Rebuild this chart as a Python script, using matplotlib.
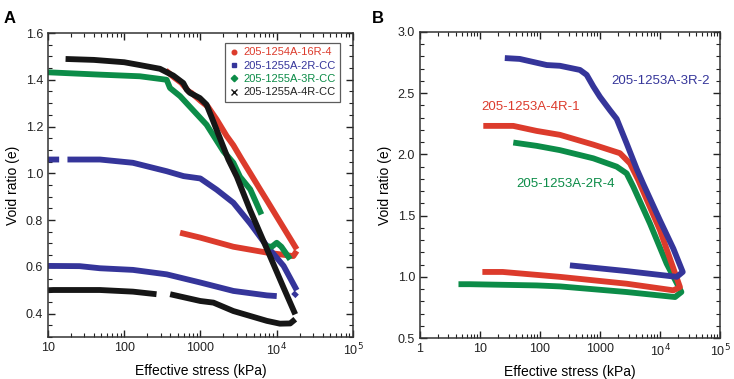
import numpy as np
import matplotlib
matplotlib.use("Agg")
from matplotlib import pyplot as plt
from matplotlib.ticker import FixedLocator, MultipleLocator, LogLocator, NullFormatter, FormatStrFormatter

plt.rcParams['font.family'] = ['Liberation Sans', 'DejaVu Sans']

RED = "#dc3b2c"
BLUE = "#35359a"
GREEN = "#0c8c48"
BLACK = "#161616"

# ---- panel A data (stress kPa, void ratio) ----
a_black_load_x = [17, 40, 100, 160, 294, 440, 595, 660, 728, 980, 1200, 1400, 1800, 2320, 3000, 4470, 7420, 12250, 17500]
a_black_load_e = [1.489, 1.485, 1.475, 1.463, 1.447, 1.418, 1.386, 1.358, 1.344, 1.322, 1.294, 1.24, 1.15, 1.059, 0.985, 0.843, 0.677, 0.512, 0.397]
a_black_unl_x = [17500, 15000, 11000, 7420, 2700, 1480, 994, 400, np.nan, 265, 130, 48, 11.7, 10]
a_black_unl_e = [0.376, 0.358, 0.357, 0.369, 0.411, 0.447, 0.454, 0.483, np.nan, 0.483, 0.494, 0.501, 0.501, 0.50]

a_red_load_x = [350, 450, 560, 700, 760, 1000, 1250, 1630, 2200, 2700, 3470, 4500, 6000, 7400, 10000, 12300, 18300]
a_red_load_e = [1.44, 1.41, 1.387, 1.35, 1.344, 1.31, 1.285, 1.23, 1.16, 1.12, 1.06, 1.0, 0.933, 0.885, 0.815, 0.767, 0.675]
a_red_unl_x = [18300, 16500, 12000, 7420, 2700, 994, 540]
a_red_unl_e = [0.668, 0.646, 0.652, 0.661, 0.686, 0.725, 0.746]

a_green_x = [10, 48, 160, 360, 398, 540, 1200, 2000, 2700, 3300, 4500, 6300, np.nan, 7500, 8600, 10000, 11500, 15000]
a_green_e = [1.432, 1.422, 1.415, 1.40, 1.365, 1.33, 1.208, 1.094, 1.045, 0.985, 0.931, 0.824, np.nan, 0.688, 0.686, 0.703, 0.686, 0.632]

a_blue_load_x = [10, 14, np.nan, 18, 48, 130, 360, 600, 994, 1630, 2700, 4500, 7420, 12300, 18300]
a_blue_load_e = [1.059, 1.059, np.nan, 1.059, 1.059, 1.045, 1.009, 0.988, 0.978, 0.93, 0.874, 0.785, 0.689, 0.604, 0.50]
a_blue_unl_x = [18300, 16500, np.nan, 10000, 7420, 2700, 994, 360, 130, 48, 26, 10]
a_blue_unl_e = [0.49, 0.475, np.nan, 0.475, 0.478, 0.497, 0.533, 0.568, 0.587, 0.594, 0.603, 0.604]

a_labels = ["205-1254A-16R-4", "205-1255A-2R-CC", "205-1255A-3R-CC", "205-1255A-4R-CC"]

# ---- panel B data ----
b_blue_x = [26, 46, 130, 215, 464, 600, 775, 1000, 1470, 1900, 2780, 4100, 5250, 10000, 16700, 23900,
            19000, 2780, 316]
b_blue_e = [2.787, 2.78, 2.73, 2.724, 2.69, 2.65, 2.555, 2.47, 2.36, 2.29, 2.09, 1.88, 1.76, 1.46, 1.23, 1.04,
            1.00, 1.047, 1.094]
b_red_x = [11.4, 36, 88, 215, 775, 2150, 3160, 4350, 10000, 21500,
           16700, 2780, 215, 24, 11]
b_red_e = [2.233, 2.233, 2.192, 2.16, 2.08, 2.01, 1.927, 1.79, 1.38, 0.916,
           0.89, 0.944, 1.0, 1.04, 1.04]
b_green_x = [36, 88, 215, 775, 1900, 2780, 3600, 6800, 12900, 22700,
             17800, 2780, 215, 88, 6.8, 4.4]
b_green_e = [2.097, 2.07, 2.035, 1.968, 1.90, 1.845, 1.735, 1.436, 1.108, 0.876,
             0.835, 0.876, 0.922, 0.93, 0.94, 0.94]
b_labels = ["205-1253A-3R-2", "205-1253A-4R-1", "205-1253A-2R-4"]

fig = plt.figure(figsize=(7.34, 3.79), dpi=100)
axA = fig.add_axes([0.0654, 0.1108, 0.4155, 0.8021])
axB = fig.add_axes([0.572, 0.108, 0.409, 0.8076])

lw = 4.2
kw = dict(lw=lw, solid_capstyle="butt", solid_joinstyle="round")
axA.plot(a_red_load_x, a_red_load_e, color=RED, **kw)
axA.plot(a_red_unl_x, a_red_unl_e, color=RED, **kw)
axA.plot(a_blue_load_x, a_blue_load_e, color=BLUE, **kw)
axA.plot(a_blue_unl_x, a_blue_unl_e, color=BLUE, **kw)
axA.plot(a_green_x, a_green_e, color=GREEN, **kw)
axA.plot(a_black_load_x, a_black_load_e, color=BLACK, **kw)
axA.plot(a_black_unl_x, a_black_unl_e, color=BLACK, **kw)

# legend handles
hs = []
for c, m, lab in zip([RED, BLUE, GREEN, BLACK], ["o", "s", "D", "x"], a_labels):
    hs.append(axA.plot([], [], ls="none", marker=m, ms=3.3 if m != "x" else 4, color=c, label=lab)[0])
leg = axA.legend(handles=hs, loc="upper right", bbox_to_anchor=(0.968, 0.978), fontsize=8,
                 frameon=True, fancybox=False, edgecolor="#333333", handlelength=0.7,
                 handletextpad=0.5, borderpad=0.4, labelspacing=0.3, borderaxespad=0.3)
leg.get_frame().set_linewidth(0.9)
for t, c in zip(leg.get_texts(), [RED, BLUE, GREEN, "#222222"]):
    t.set_color(c)

axB.plot(b_green_x, b_green_e, color=GREEN, **kw)
axB.plot(b_red_x, b_red_e, color=RED, **kw)
axB.plot(b_blue_x, b_blue_e, color=BLUE, **kw)
axB.text(1560, 2.596, b_labels[0], color=BLUE, fontsize=9.5, va="center")
axB.text(10.4, 2.39, b_labels[1], color=RED, fontsize=9.5, va="center")
axB.text(40.8, 1.758, b_labels[2], color=GREEN, fontsize=9.5, va="center")

def style(ax, xlo, ylim, ymaj, ymin, xlabels):
    ax.set_xscale("log")
    ax.set_xlim(xlo, 1e5)
    ax.set_ylim(*ylim)
    decades = [xlo * 10 ** i for i in range(len(xlabels))]
    ax.xaxis.set_major_locator(FixedLocator(decades))
    ax.set_xticklabels(xlabels)
    ax.xaxis.set_minor_locator(LogLocator(base=10, subs=np.arange(2, 10)))
    ax.xaxis.set_minor_formatter(NullFormatter())
    ax.yaxis.set_major_locator(MultipleLocator(ymaj))
    ax.yaxis.set_minor_locator(MultipleLocator(ymin))
    ax.yaxis.set_major_formatter(FormatStrFormatter("%.1f"))
    ax.tick_params(which="both", direction="in", top=True, right=True, labelsize=9, colors="#222222")
    ax.tick_params(which="major", length=5, width=1)
    ax.tick_params(which="minor", length=3, width=0.8)
    for s in ax.spines.values():
        s.set_linewidth(1.1)
        s.set_color("#333333")
    ax.set_xlabel("Effective stress (kPa)", fontsize=10, labelpad=4)
    ax.set_ylabel("Void ratio (e)", fontsize=10, labelpad=4)

style(axA, 10, (0.3, 1.6), 0.2, 0.05, ["10", "100", "1000", r"10$^4$", r"10$^5$"])
style(axB, 1, (0.5, 3.0), 0.5, 0.1, ["1", "10", "100", "1000", r"10$^4$", r"10$^5$"])

fig.text(0.005, 0.97, "A", fontsize=12, fontweight="bold", va="top")
fig.text(0.507, 0.97, "B", fontsize=12, fontweight="bold", va="top")

plt.savefig("out.png", dpi=100)
plt.close()
